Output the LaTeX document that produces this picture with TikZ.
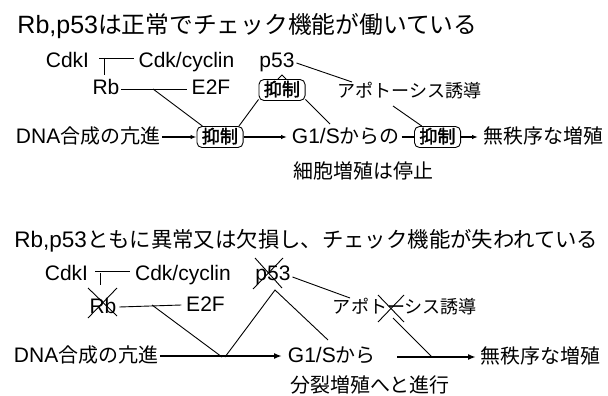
\documentclass[tikz,border=0pt]{standalone}
\usepackage{fontspec}
\setmainfont{Liberation Sans}
\newfontfamily\jp[Scale=0.95]{Noto Sans CJK JP}
\newfontfamily\jpb[Scale=0.95,FakeBold=2]{Noto Sans CJK JP}
\usetikzlibrary{arrows.meta,calc}
\begin{document}
\begin{tikzpicture}[x=1pt,y=-1pt,line width=0.9pt,
  lbl/.style={inner sep=1.5pt,font=\fontsize{21}{25}\selectfont,text height=15pt,text depth=3pt},
  ttl/.style={inner sep=0pt,anchor=west},
  kbox/.style={draw,line width=0.9pt,rounded corners=5pt,inner xsep=5pt,inner ysep=2.5pt,
    text height=14pt,text depth=2pt,font=\jpb\fontsize{19}{22}\selectfont},
  arr/.style={line width=1.4pt,-{Latex[length=6pt,width=4.5pt]}},
  tarr/.style={line width=2.4pt,-{Latex[length=8pt,width=6pt]}},
  xmark/.style={line width=0.9pt}]
\useasboundingbox (0,0) rectangle (608,396);

% ---------------- top ----------------
\node[ttl,font=\fontsize{25}{29}\selectfont] (t1) at (17,26) {Rb,p53{\jp は正常でチェック機能が働いている}};

\node[lbl] (cdkl) at (67.5,61) {CdkI};
\node[lbl] (cdk) at (186.5,61) {Cdk/cyclin};
\node[lbl] (p53) at (277,61) {p53};
\node[lbl] (rb) at (106,89) {Rb};
\node[lbl] (e2f) at (211,89) {E2F};
\node[kbox] (box1) at (282,90) {抑制};
\node[lbl,font=\jp\fontsize{19}{23}\selectfont] (apo) at (409.5,92) {アポトーシス誘導};
\node[lbl,anchor=west] (dna) at (14,137) {DNA{\jp 合成の亢進}};
\node[kbox] (box0) at (220,137) {抑制};
\node[lbl,anchor=west] (g1s) at (290,137) {G1/S{\jp からの}};
\node[kbox] (box2) at (437.5,137) {抑制};
\node[lbl,anchor=west] (mu) at (482,137) {\jp 無秩序な増殖};
\node[lbl,anchor=west] (sai) at (292,172) {\jp 細胞増殖は停止};

\coordinate (tj) at (104,58);
\coordinate (tb) at (104,75);
\coordinate (rbj) at (153,89);
\coordinate (g1top) at (330,124);
\coordinate (apotop) at (352,82);
\coordinate (apoj) at (393,106);

\draw ([xshift=8pt,yshift=3pt]cdkl.east) -- ([xshift=-3pt,yshift=3pt]cdk.west);
\draw (tj) -- (tb);
\draw (rb.east) -- ([xshift=-3pt]e2f.west);
\draw (rbj) -- (box0.148);
\draw[arr] (dna.east) -- (box0.west);
\draw[arr,shorten >=3pt] (box0.east) -- (g1s.west);
\draw (box0.30) -- (box1.202);
\draw (box1.-22) -- (g1top);
\draw ([xshift=-4pt]box1.north) -- ++(4,-4) -- ++(4,4);
\draw ([yshift=-2pt]p53.east) -- (apotop);
\draw (apoj) -- (box2);
\draw[line width=1.4pt] (g1s.east) -- (box2.west);
\draw[arr,shorten >=4pt] (box2.east) -- (mu.west);

% ---------------- bottom ----------------
\node[ttl,font=\fontsize{22.5}{27}\selectfont] (t2) at (14,241) {Rb,p53{\jp ともに異常又は欠損し、チェック機能が失われている}};

\node[lbl] (cdkl2) at (66.5,274) {CdkI};
\node[lbl] (cdk2) at (183,274) {Cdk/cyclin};
\node[lbl] (p53b) at (273,274) {p53};
\node[lbl] (rb2) at (103,307) {Rb};
\node[lbl] (e2f2) at (205.5,305) {E2F};
\node[lbl,font=\jp\fontsize{19}{23}\selectfont] (apo2) at (405,307) {アポトーシス誘導};
\node[lbl,anchor=west] (dna2) at (12,356) {DNA{\jp 合成の亢進}};
\node[lbl,anchor=west] (g1s2) at (286,356) {G1/S{\jp から}};
\node[lbl,anchor=west] (mu2) at (479,357) {\jp 無秩序な増殖};
\node[lbl,anchor=west] (bun) at (289,386) {\jp 分裂増殖へと進行};

\coordinate (tj2) at (100,273);
\coordinate (tb2) at (100,285);
\coordinate (rbj2) at (152,305);
\coordinate (v1) at (222,357);
\coordinate (v2) at (225,357);
\coordinate (pbot) at (275,290);
\coordinate (g1top2) at (328,340);
\coordinate (apotop2) at (350,298);
\coordinate (apoj2) at (393,318);
\coordinate (v3) at (432,357);
\coordinate (arrS) at (397,357);

\draw ([xshift=5pt,yshift=3pt]cdkl2.east) -- ([xshift=-3pt,yshift=3pt]cdk2.west);
\draw (tj2) -- (tb2);
\draw ([xshift=1pt]rb2.east) -- ([xshift=-3pt]e2f2.west);
\draw (rbj2) -- (v1);
\draw[tarr,shorten >=4pt] (dna2.east) -- (g1s2.west);
\draw (v2) -- (pbot) -- (g1top2);
\draw ([yshift=-3pt]p53b.east) -- (apotop2);
\draw (apoj2) -- (v3);
\draw[tarr,shorten >=3pt] (arrS) -- (mu2.west);

% crosses
\draw[xmark] ($(rb2)+(-15,-19)$) -- ($(rb2)+(14,9)$);
\draw[xmark] ($(rb2)+(14,-19)$) -- ($(rb2)+(-15,11)$);
\draw[xmark] ($(p53b)+(-18,-16)$) -- ($(p53b)+(9,14)$);
\draw[xmark] ($(p53b)+(10,-16)$) -- ($(p53b)+(-20,15)$);
\draw[xmark] (378,295) -- (404,322);
\draw[xmark] (404,295) -- (378,322);
\end{tikzpicture}
\end{document}
